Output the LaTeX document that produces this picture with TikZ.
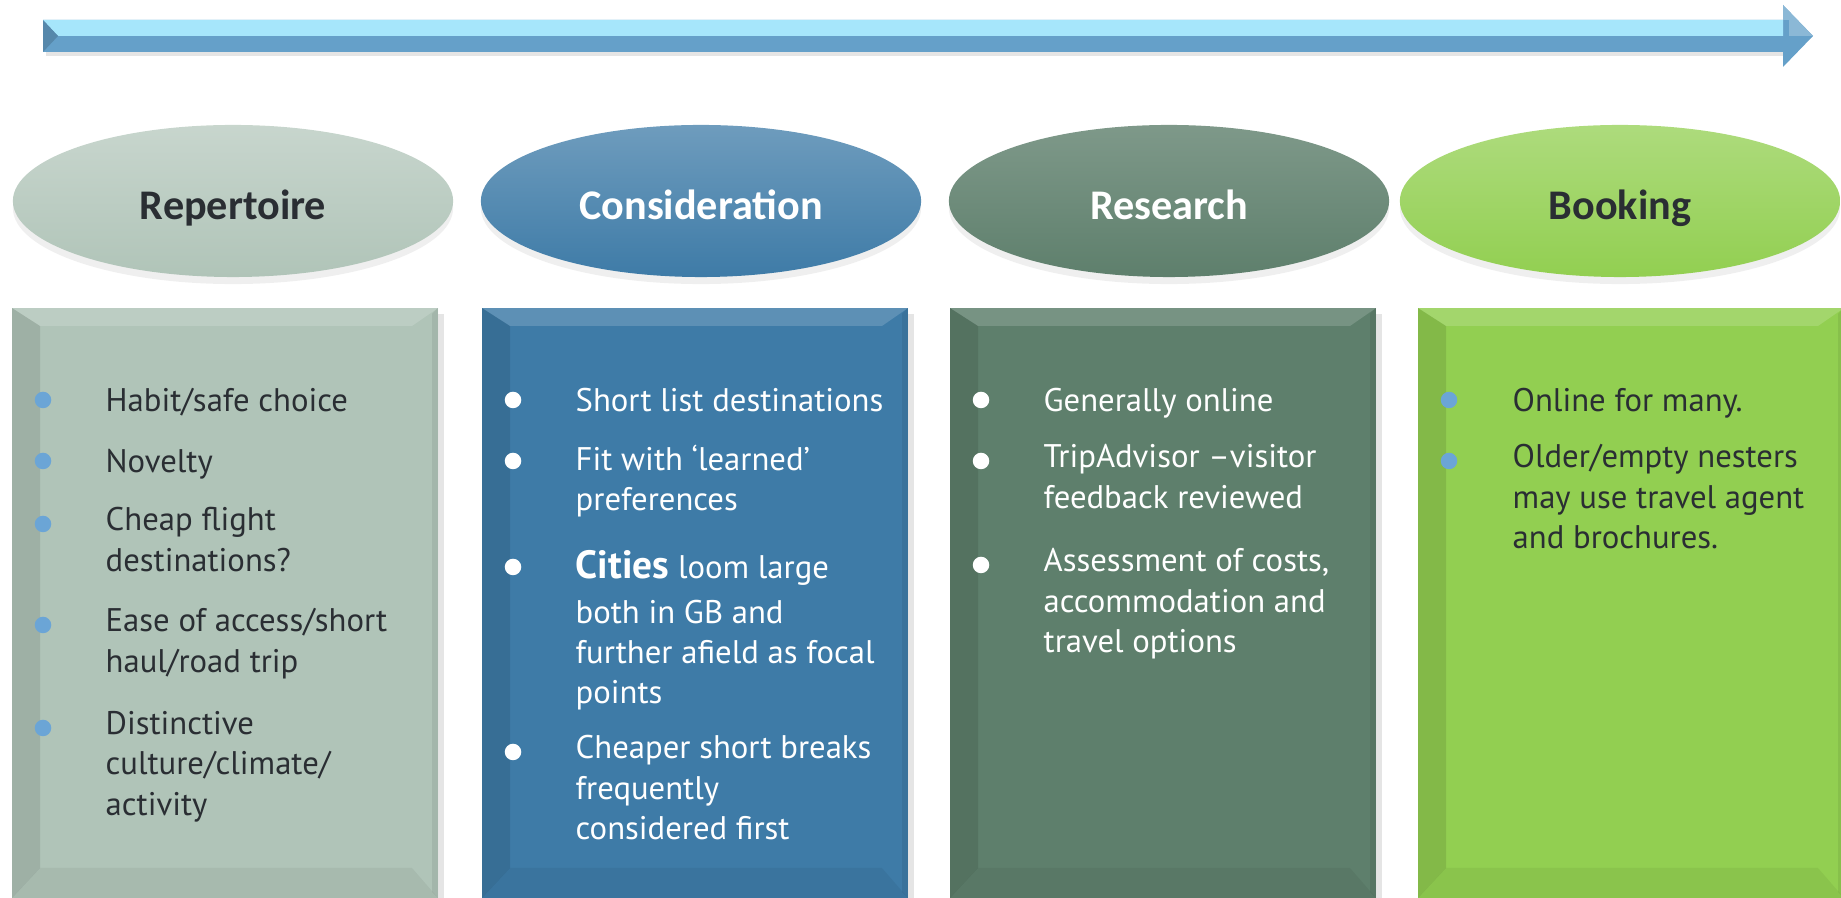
\documentclass[tikz,border=0pt]{standalone}
\usepackage{fontspec}
\setmainfont{PT Sans}
\newfontfamily\titlefont{Carlito}
\usetikzlibrary{shapes.geometric,shadows}
\definecolor{repgreen}{HTML}{B0C4B8}
\definecolor{conblue}{HTML}{3E7BA7}
\definecolor{resgreen}{HTML}{5E7F6C}
\definecolor{booklime}{HTML}{92CF51}
\definecolor{darktext}{HTML}{2A2E33}
\definecolor{dotblue}{HTML}{6BA5D6}
\definecolor{arrowlight}{HTML}{A6E6FB}
\definecolor{arrowdark}{HTML}{65A0C9}

% bevelled column box: left x, colour
\newcommand{\bevelbox}[2]{%
  \fill[black,opacity=0.10] ({#1+426},314) rectangle ({#1+432},898);
  \fill[#2] (#1,308) rectangle ({#1+426},898);
  \fill[white,opacity=0.16] (#1,308) -- ({#1+426},308) -- ({#1+400},326) -- ({#1+28},326) -- cycle;
  \fill[black,opacity=0.10] (#1,308) -- ({#1+28},326) -- ({#1+28},868) -- (#1,898) -- cycle;
  \fill[black,opacity=0.05] (#1,898) -- ({#1+28},868) -- ({#1+400},868) -- ({#1+426},898) -- cycle;
  \fill[black,opacity=0.07] ({#1+426},308) -- ({#1+426},898) -- ({#1+420},892) -- ({#1+420},314) -- cycle;
}

\tikzset{
  stage/.style={ellipse, minimum width=4.4cm, minimum height=1.52cm, inner sep=0pt,
    text height=11pt, text depth=0.4pt,
    font=\titlefont\bfseries\fontsize{12pt}{14pt}\selectfont,
    drop shadow={opacity=0.13, shadow xshift=0pt, shadow yshift=-2pt}},
  itemtext/.style={anchor=north west, align=left, inner sep=0pt,
    font=\fontsize{9.3pt}{11.4pt}\selectfont, execute at begin node=\strut},
  dot/.style={circle, inner sep=0pt, minimum size=0.165cm},
}

\begin{document}
\begin{tikzpicture}[x=0.01cm, y=-0.01cm]
\useasboundingbox (0,0) rectangle (1841,898);

% time arrow
\coordinate (tail) at (43,36);
\coordinate (tip) at (1813,36);
\fill[black,opacity=0.10] (46,52) -- (1783,52) -- (1783,56) -- (46,56) -- cycle;
\fill[arrowdark] (43,20) -- (1783,20) -- (1783,5) -- (tip) -- (1783,67) -- (1783,52) -- (43,52) -- cycle;
\fill[arrowlight] (43,20) -- (1783,20) -- (1783,36) -- (58,36) -- cycle;
\fill[arrowdark!85!black] (43,20) -- (58,36) -- (43,52) -- cycle;
\fill[arrowdark!75!white] (1783,5) -- (tip) -- (1789,36) -- (1789,20) -- (1783,20) -- cycle;

% stages
\node[stage, top color=repgreen!70!white, bottom color=repgreen, text=darktext] (repertoire) at (233,201) {Repertoire};
\node[stage, top color=conblue!75!white, bottom color=conblue, text=white] (consideration) at (701,201) {Consideration};
\node[stage, top color=resgreen!80!white, bottom color=resgreen, text=white] (research) at (1169,201) {Research};
\node[stage, top color=booklime!75!white, bottom color=booklime, text=darktext] (booking) at (1620,201) {Booking};

% columns
\bevelbox{12}{repgreen}
\bevelbox{482}{conblue}
\bevelbox{950}{resgreen}
\bevelbox{1418}{booklime}

% Repertoire
\node[dot, fill=dotblue] (rep1dot) at (43,400) {};
\node[itemtext, text=darktext] (rep1) at (105,383) {Habit/safe choice};
\node[dot, fill=dotblue] (rep2dot) at (43,461) {};
\node[itemtext, text=darktext] (rep2) at (105,444) {Novelty};
\node[dot, fill=dotblue] (rep3dot) at (43,524) {};
\node[itemtext, text=darktext] (rep3) at (105,507) {Cheap flight\\destinations?};
\node[dot, fill=dotblue] (rep4dot) at (43,625) {};
\node[itemtext, text=darktext] (rep4) at (105,608) {Ease of access/short\\haul/road trip};
\node[dot, fill=dotblue] (rep5dot) at (43,728) {};
\node[itemtext, text=darktext] (rep5) at (105,711) {Distinctive\\culture/climate/\\activity};

% Consideration
\node[dot, fill=white] (con1dot) at (513,400) {};
\node[itemtext, text=white] (con1) at (575,383) {Short list destinations};
\node[dot, fill=white] (con2dot) at (513,461) {};
\node[itemtext, text=white] (con2) at (575,444) {Fit with ‘learned’\\preferences};
\node[dot, fill=white] (con3dot) at (513,567) {};
\node[itemtext, text=white] (con3) at (575,550) {{\fontsize{11.2pt}{11.4pt}\selectfont\bfseries Cities} loom large\\[1.2pt]both in GB and\\further afield as focal\\points};
\node[dot, fill=white] (con4dot) at (513,752) {};
\node[itemtext, text=white] (con4) at (575,735) {Cheaper short breaks\\frequently\\considered first};

% Research
\node[dot, fill=white] (res1dot) at (981,400) {};
\node[itemtext, text=white] (res1) at (1043,383) {Generally online};
\node[dot, fill=white] (res2dot) at (981,461) {};
\node[itemtext, text=white] (res2) at (1043,444) {TripAdvisor –visitor\\feedback reviewed};
\node[dot, fill=white] (res3dot) at (981,565) {};
\node[itemtext, text=white] (res3) at (1043,548) {Assessment of costs,\\accommodation and\\travel options};

% Booking
\node[dot, fill=dotblue] (book1dot) at (1449,400) {};
\node[itemtext, text=darktext] (book1) at (1512,383) {Online for many.};
\node[dot, fill=dotblue] (book2dot) at (1449,461) {};
\node[itemtext, text=darktext] (book2) at (1512,444) {Older/empty nesters\\may use travel agent\\and brochures.};
\end{tikzpicture}
\end{document}
